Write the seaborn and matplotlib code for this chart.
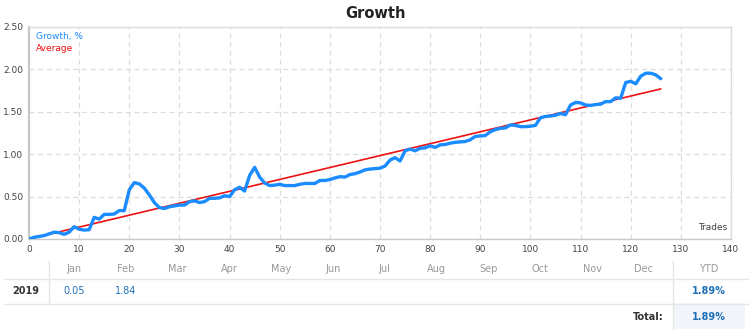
import numpy as np
import pandas as pd
import matplotlib
matplotlib.use("Agg")
import matplotlib.pyplot as plt
from matplotlib.lines import Line2D
from matplotlib.patches import Rectangle
import seaborn as sns

# Cumulative growth (%) after each trade
growth = [
    0.00, 0.02, 0.03, 0.04, 0.06, 0.08, 0.075, 0.055, 0.08, 0.145,
    0.115, 0.105, 0.11, 0.255, 0.235, 0.29, 0.29, 0.295, 0.335, 0.335,
    0.58, 0.665, 0.65, 0.60, 0.52, 0.43, 0.37, 0.36, 0.38, 0.39,
    0.40, 0.40, 0.44, 0.45, 0.43, 0.44, 0.48, 0.48, 0.485, 0.51,
    0.50, 0.58, 0.61, 0.565, 0.75, 0.845, 0.73, 0.66, 0.63, 0.635,
    0.645, 0.63, 0.63, 0.63, 0.645, 0.655, 0.655, 0.655, 0.69, 0.69,
    0.70, 0.72, 0.735, 0.73, 0.76, 0.77, 0.79, 0.815, 0.825, 0.83,
    0.835, 0.86, 0.93, 0.96, 0.92, 1.04, 1.06, 1.04, 1.07, 1.075,
    1.10, 1.08, 1.11, 1.115, 1.13, 1.14, 1.145, 1.15, 1.17, 1.21,
    1.215, 1.22, 1.265, 1.29, 1.305, 1.31, 1.345, 1.34, 1.325, 1.325,
    1.33, 1.34, 1.43, 1.445, 1.45, 1.46, 1.48, 1.465, 1.58, 1.61,
    1.605, 1.58, 1.575, 1.585, 1.59, 1.62, 1.62, 1.665, 1.66, 1.845,
    1.86, 1.83, 1.92, 1.955, 1.955, 1.935, 1.89,
]
trades = list(range(len(growth)))

# Average trend line end points
avg_trades = [0, len(growth) - 1]
avg_values = [0.0, 1.77]

x_ticks = list(range(0, 141, 10))
y_ticks = [0.0, 0.5, 1.0, 1.5, 2.0, 2.5]

months = ["Jan", "Feb", "Mar", "Apr", "May", "Jun",
          "Jul", "Aug", "Sep", "Oct", "Nov", "Dec"]
year_label = "2019"
month_values = ["0.05", "1.84"] + [""] * 10
ytd_value = "1.89%"
total_value = "1.89%"

BLUE = "#1a8cff"
RED = "#ee1111"
VAL_BLUE = "#1f6fb5"

sns.set_theme(style="white")
plt.rcParams["font.family"] = ["DejaVu Sans"]

W, H = 750, 335
fig = plt.figure(figsize=(W / 100, H / 100), dpi=100)


def fx(px):
    return px / W


def fy(py):
    return 1 - py / H


left, right, top, bottom = 29, 731, 27, 239
ax = fig.add_axes([fx(left), fy(bottom), fx(right - left), (bottom - top) / H])

df_growth = pd.DataFrame({"Trades": trades, "Growth": growth})
df_avg = pd.DataFrame({"Trades": avg_trades, "Average": avg_values})

sns.lineplot(data=df_avg, x="Trades", y="Average", ax=ax, color=RED,
             linewidth=1.2, zorder=3)
sns.lineplot(data=df_growth, x="Trades", y="Growth", ax=ax, color=BLUE,
             linewidth=2.4, zorder=4, solid_joinstyle="round",
             solid_capstyle="round")

ax.set_xlim(0, 140)
ax.set_ylim(0, 2.5)
ax.set_xticks(x_ticks)
ax.set_yticks(y_ticks)
ax.set_xticklabels([str(t) for t in x_ticks])
ax.set_yticklabels([f"{v:.2f}" for v in y_ticks])
ax.set_xlabel("")
ax.set_ylabel("")
ax.tick_params(axis="both", length=0, labelsize=6.5, colors="#444444", pad=4)
ax.grid(True, color="#dddddd", linestyle=(0, (4, 3)), linewidth=0.9)
for side, sp in ax.spines.items():
    sp.set_color("#dcdcdc")
    sp.set_linewidth(1.0)
ax.spines["left"].set_color("#c8c8c8")
ax.spines["left"].set_linewidth(1.6)
ax.spines["bottom"].set_color("#c8c8c8")

ax.text(0.01, 0.955, "Growth, %", transform=ax.transAxes, color=BLUE,
        fontsize=6.5, va="center", ha="left")
ax.text(0.01, 0.90, "Average", transform=ax.transAxes, color=RED,
        fontsize=6.5, va="center", ha="left")
ax.text(0.995, 0.035, "Trades", transform=ax.transAxes, color="#444444",
        fontsize=6.5, va="bottom", ha="right")

fig.text(0.5, fy(13), "Growth", ha="center", va="center",
         fontsize=10.5, fontweight="bold", color="#222222")

# Monthly returns table
col_x = [74 + i * 51.8 for i in range(12)]
ytd_x = 709
header_y, row_y, total_y = 269.5, 291.5, 316.5

for mx, m in zip(col_x, months):
    fig.text(fx(mx), fy(header_y), m, ha="center", va="center",
             fontsize=7, color="#999999")
fig.text(fx(ytd_x), fy(header_y), "YTD", ha="center", va="center",
         fontsize=7, color="#999999")

fig.text(fx(26), fy(row_y), year_label, ha="center", va="center",
         fontsize=7, color="#333333", fontweight="bold")
for mx, v in zip(col_x, month_values):
    if v:
        fig.text(fx(mx), fy(row_y), v, ha="center", va="center",
                 fontsize=7, color=VAL_BLUE)
fig.text(fx(ytd_x), fy(row_y), ytd_value, ha="center", va="center",
         fontsize=7, color=VAL_BLUE, fontweight="bold")

fig.patches.append(Rectangle((fx(673), fy(329)), fx(745 - 673), (329 - 303) / H,
                             transform=fig.transFigure, facecolor="#f2f6fc",
                             edgecolor="none", zorder=0))
fig.text(fx(664), fy(total_y), "Total:", ha="right", va="center",
         fontsize=7, color="#333333", fontweight="bold")
fig.text(fx(ytd_x), fy(total_y), total_value, ha="center", va="center",
         fontsize=7, color=VAL_BLUE, fontweight="bold")

line_kw = dict(transform=fig.transFigure, color="#e6e6e6", linewidth=1.0)
fig.lines.append(Line2D([fx(4), fx(748)], [fy(278.5), fy(278.5)], **line_kw))
fig.lines.append(Line2D([fx(4), fx(748)], [fy(303.5), fy(303.5)], **line_kw))
fig.lines.append(Line2D([fx(49), fx(49)], [fy(261), fy(303.5)], **line_kw))
fig.lines.append(Line2D([fx(673), fx(673)], [fy(261), fy(329)], **line_kw))

fig.savefig("out.png", dpi=100, facecolor="white")
